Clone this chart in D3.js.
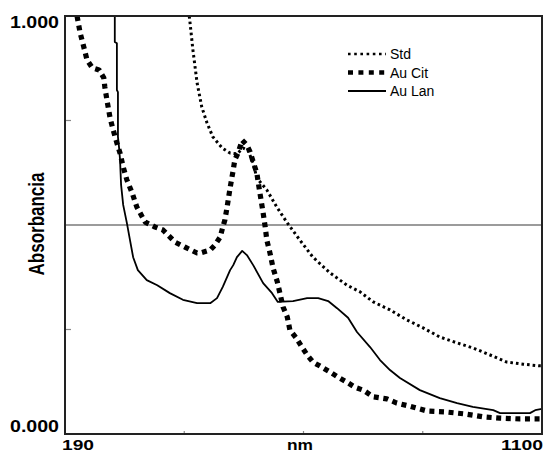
<!DOCTYPE html>
<html>
<head>
<meta charset="utf-8">
<script src="https://cdn.jsdelivr.net/npm/d3@7"></script>
<style>
  body { margin: 0; background: #fff; }
  svg { display: block; font-family: "Liberation Sans", Arial, sans-serif; }
</style>
</head>
<body>
<div id="chart"></div>
<script>
// spectra: wavelength (nm) and absorbance
const stdNm  = [427, 428, 434, 442, 451, 461, 472, 490, 505, 518, 530, 539, 549, 556, 575, 594, 614, 638, 663, 696, 728, 753, 778, 810, 842, 873, 905, 938, 968, 1001, 1033, 1064, 1096, 1100];
const stdAbs = [1.000, 0.990, 0.919, 0.840, 0.782, 0.744, 0.711, 0.684, 0.672, 0.670, 0.684, 0.679, 0.648, 0.612, 0.584, 0.543, 0.505, 0.464, 0.423, 0.385, 0.356, 0.340, 0.316, 0.297, 0.273, 0.254, 0.232, 0.218, 0.206, 0.189, 0.172, 0.167, 0.163, 0.163];

const citNm  = [213, 219, 224, 232, 242, 255, 264, 266, 270, 276, 282, 289, 295, 301, 308, 318, 327, 343, 362, 377, 400, 419, 442, 448, 467, 476, 486, 491, 495, 499, 505, 511, 514, 520, 528, 537, 543, 549, 556, 560, 564, 568, 572, 575, 581, 587, 595, 600, 606, 614, 619, 631, 642, 652, 663, 680, 696, 711, 728, 743, 759, 778, 804, 823, 846, 881, 915, 953, 988, 1020, 1058, 1100];
const citAbs = [1.000, 0.959, 0.935, 0.895, 0.876, 0.871, 0.852, 0.830, 0.799, 0.756, 0.727, 0.696, 0.672, 0.639, 0.608, 0.577, 0.543, 0.507, 0.495, 0.488, 0.459, 0.447, 0.433, 0.433, 0.440, 0.452, 0.471, 0.495, 0.512, 0.541, 0.589, 0.632, 0.656, 0.672, 0.703, 0.691, 0.675, 0.651, 0.624, 0.591, 0.560, 0.529, 0.495, 0.464, 0.433, 0.397, 0.364, 0.337, 0.304, 0.280, 0.249, 0.230, 0.208, 0.189, 0.172, 0.160, 0.148, 0.136, 0.124, 0.112, 0.105, 0.089, 0.084, 0.074, 0.067, 0.055, 0.053, 0.048, 0.041, 0.038, 0.036, 0.036];

const lanNm  = [285, 285, 289, 289, 291, 291, 293, 295, 297, 301, 308, 314, 320, 329, 346, 366, 390, 415, 442, 467, 480, 491, 505, 511, 518, 528, 537, 549, 568, 585, 596, 625, 652, 673, 692, 709, 730, 747, 772, 791, 810, 829, 867, 905, 938, 968, 1007, 1020, 1077, 1087, 1100];
const lanAbs = [1.000, 0.938, 0.935, 0.823, 0.818, 0.711, 0.687, 0.656, 0.596, 0.548, 0.505, 0.464, 0.423, 0.392, 0.368, 0.356, 0.337, 0.321, 0.313, 0.313, 0.325, 0.352, 0.392, 0.404, 0.423, 0.438, 0.428, 0.404, 0.361, 0.337, 0.316, 0.318, 0.325, 0.325, 0.318, 0.301, 0.278, 0.244, 0.208, 0.177, 0.153, 0.134, 0.105, 0.086, 0.074, 0.065, 0.057, 0.050, 0.050, 0.057, 0.060];

const seriesNames = ["Std", "Au Cit", "Au Lan"];
const yTickLabels = ["0.000", "1.000"];
const xTickLabels = ["190", "1100"];
const xTitle = "nm";
const yTitle = "Absorbancia";

const W = 546, H = 454;
const plot = { left: 65, right: 542, top: 16, bottom: 434 };

const svg = d3.select("#chart").append("svg")
    .attr("width", W)
    .attr("height", H);

const x = d3.scaleLinear().domain([190, 1100]).range([plot.left, plot.right]);
const y = d3.scaleLinear().domain([0, 1]).range([plot.bottom, plot.top]);

// line styles per series
const styles = {
  "Std":    { width: 3, dash: "2.6 3", cap: "butt" },
  "Au Cit": { width: 5.2, dash: "5 4.6", cap: "butt" },
  "Au Lan": { width: 1.8, dash: null, cap: "butt" }
};

svg.append("clipPath").attr("id", "clip")
  .append("rect")
    .attr("x", plot.left).attr("y", plot.top)
    .attr("width", plot.right - plot.left).attr("height", plot.bottom - plot.top);

// grid line at 0.5 and small ticks
svg.append("line")
    .attr("x1", plot.left).attr("x2", plot.right)
    .attr("y1", y(0.5)).attr("y2", y(0.5))
    .attr("stroke", "#7a7a7a").attr("stroke-width", 1.5);

svg.selectAll(".ytick").data([0.25, 0.75]).enter()
  .append("line")
    .attr("x1", plot.left).attr("x2", plot.left + 6)
    .attr("y1", d => y(d)).attr("y2", d => y(d))
    .attr("stroke", "#888").attr("stroke-width", 1.2);

svg.selectAll(".xtick").data([417.5, 645, 872.5]).enter()
  .append("line")
    .attr("x1", d => x(d)).attr("x2", d => x(d))
    .attr("y1", plot.bottom).attr("y2", plot.bottom - 3)
    .attr("stroke", "#888").attr("stroke-width", 1.2);

const line = d3.line().x(d => x(d[0])).y(d => y(d[1]));

const seriesData = [
  d3.zip(stdNm, stdAbs),
  d3.zip(citNm, citAbs),
  d3.zip(lanNm, lanAbs)
];

const g = svg.append("g").attr("clip-path", "url(#clip)");
seriesData.forEach((pts, i) => {
  const s = styles[seriesNames[i]];
  g.append("path")
      .attr("d", line(pts))
      .attr("fill", "none")
      .attr("stroke", "#000")
      .attr("stroke-width", s.width)
      .attr("stroke-dasharray", s.dash)
      .attr("stroke-linecap", s.cap)
      .attr("stroke-linejoin", "round");
});

// frame
svg.append("rect")
    .attr("x", plot.left).attr("y", plot.top)
    .attr("width", plot.right - plot.left).attr("height", plot.bottom - plot.top)
    .attr("fill", "none").attr("stroke", "#222").attr("stroke-width", 2);

// axis labels
svg.append("text").text(yTickLabels[1])
    .attr("x", 59).attr("y", 28)
    .attr("text-anchor", "end")
    .attr("font-size", 16).attr("font-weight", "bold")
    .attr("textLength", 49).attr("lengthAdjust", "spacingAndGlyphs");
svg.append("text").text(yTickLabels[0])
    .attr("x", 59).attr("y", 432)
    .attr("text-anchor", "end")
    .attr("font-size", 16).attr("font-weight", "bold")
    .attr("textLength", 49).attr("lengthAdjust", "spacingAndGlyphs");
svg.append("text").text(xTickLabels[0])
    .attr("x", 62).attr("y", 450)
    .attr("font-size", 15).attr("font-weight", "bold")
    .attr("textLength", 32).attr("lengthAdjust", "spacingAndGlyphs");
svg.append("text").text(xTickLabels[1])
    .attr("x", 543).attr("y", 450)
    .attr("text-anchor", "end")
    .attr("font-size", 15).attr("font-weight", "bold")
    .attr("textLength", 42).attr("lengthAdjust", "spacingAndGlyphs");
svg.append("text").text(xTitle)
    .attr("x", 300).attr("y", 450)
    .attr("text-anchor", "middle")
    .attr("font-size", 15).attr("font-weight", "bold")
    .attr("textLength", 26).attr("lengthAdjust", "spacingAndGlyphs");

svg.append("text").text(yTitle)
    .attr("transform", "translate(44,224) scale(1.25,1) rotate(-90)")
    .attr("text-anchor", "middle")
    .attr("font-size", 17).attr("font-weight", "bold");

// legend
const legend = svg.append("g").attr("transform", "translate(348,54)");
seriesNames.forEach((name, i) => {
  const s = styles[name];
  const row = legend.append("g").attr("transform", `translate(0,${i * 18.5})`);
  row.append("line")
      .attr("x1", 0).attr("x2", 38)
      .attr("y1", 0).attr("y2", 0)
      .attr("stroke", "#000")
      .attr("stroke-width", name === "Au Lan" ? 1.8 : s.width * 0.9)
      .attr("stroke-dasharray", name === "Std" ? "2.6 3.6" : (name === "Au Cit" ? "5 5.4" : null));
  row.append("text").text(name)
      .attr("x", 42).attr("y", 5)
      .attr("font-size", 14);
});
</script>
</body>
</html>
